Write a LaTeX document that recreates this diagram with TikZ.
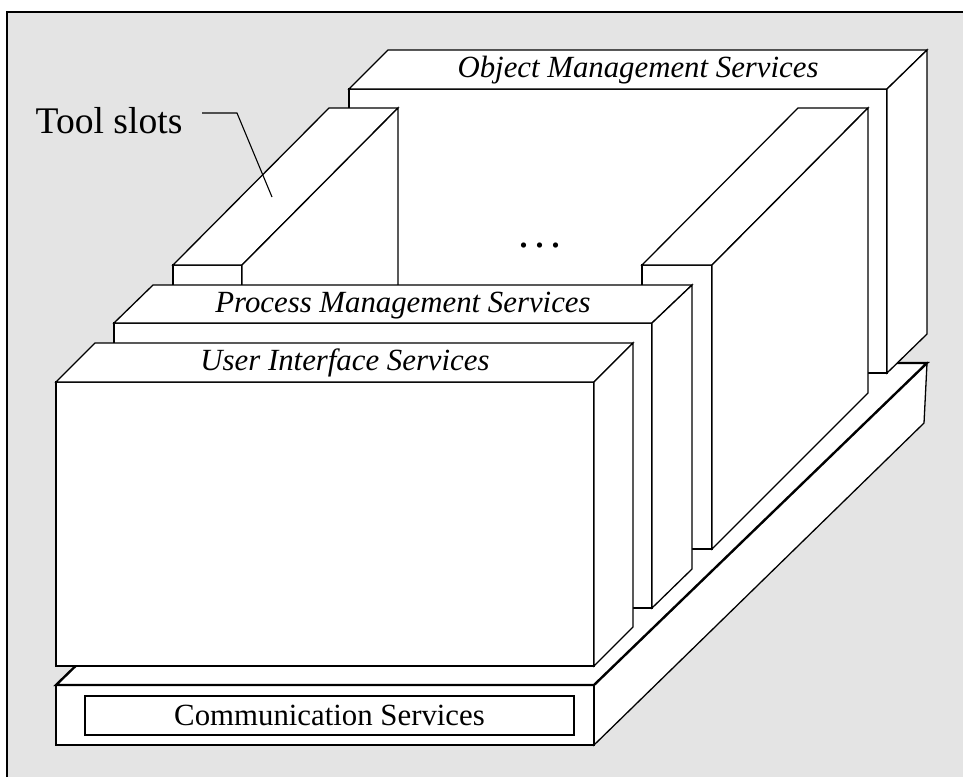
\documentclass[tikz,border=0pt]{standalone}
\usepackage{fontspec}
\setmainfont{Liberation Serif}
\definecolor{panel}{RGB}{228,228,228}

\begin{document}
\begin{tikzpicture}[x=0.5pt, y=-0.5pt, line width=0.65pt, line join=miter,
        face/.style={draw=black, fill=white},
        rim/.style={face, line width=1.2pt},
        layer/.style={font=\fontsize{15.4}{18}\selectfont\itshape, anchor=base, inner sep=0pt},
        plain/.style={font=\fontsize{15.4}{18}\selectfont, inner sep=0pt}]
        \useasboundingbox (0,0) rectangle (963,777);
        \fill[white] (0,0) rectangle (963,777);
        \fill[panel] (7,12) rectangle (963,777);
        \draw (7,777) -- (7,12) -- (963,12);

        % platform
        \draw[face] (594,685) -- (927,363) -- (924,423) -- (594,745) -- cycle;
        \draw[face] (56,685) rectangle (594,745);
        \draw[rim] (56,685) -- (594,685) -- (927,363) -- (388,363) -- cycle;

        % object management
        \draw[face] (349,89) rectangle (887,373);
        \draw[face] (349,89) -- (887,89) -- (927,50) -- (388,50) -- cycle;
        \draw[face] (887,89) -- (927,50) -- (927,334) -- (887,373) -- cycle;

        % tool slots
        \draw[face] (642,265) rectangle (712,549);
        \draw[face] (642,265) -- (712,265) -- (868,108) -- (798,108) -- cycle;
        \draw[face] (712,265) -- (868,108) -- (868,393) -- (712,549) -- cycle;
        \draw[face] (173,265) rectangle (242,549);
        \draw[face] (173,265) -- (242,265) -- (398,108) -- (329,108) -- cycle;
        \draw[face] (242,265) -- (398,108) -- (398,393) -- (242,549) -- cycle;

        % process management
        \draw[face] (114,323) rectangle (652,608);
        \draw[face] (114,323) -- (652,323) -- (692,285) -- (153,285) -- cycle;
        \draw[face] (652,323) -- (692,285) -- (692,569) -- (652,608) -- cycle;

        % user interface
        \draw[face] (56,382) rectangle (594,666);
        \draw[face] (56,382) -- (594,382) -- (633,343) -- (95,343) -- cycle;
        \draw[face] (594,382) -- (633,343) -- (633,627) -- (594,666) -- cycle;

        \node[layer] (objlabel) at (638,77) {Object Management Services};
        \node[layer] (proclabel) at (403,312) {Process Management Services};
        \node[layer] (uilabel) at (345,370) {User Interface Services};
        \node[plain, draw, fill=white, minimum width=244.5pt, minimum height=19.5pt] (comm) at (329.5,715.5) {Communication Services};
        \node[font=\fontsize{22}{24}\selectfont, anchor=base, inner sep=0pt] (more) at (540,247) {.\kern2.5pt.\kern2.5pt.};

        \node[font=\fontsize{18.8}{22}\selectfont, anchor=base west, inner sep=0pt] (toollabel) at (35,133) {Tool slots};
        \coordinate (leadstart) at (202,113);
        \coordinate (leadbend) at (237,113);
        \coordinate (slottip) at (272,197);
        \draw[line width=0.55pt] (leadstart) -- (leadbend) -- (slottip);
      \end{tikzpicture}
\end{document}
